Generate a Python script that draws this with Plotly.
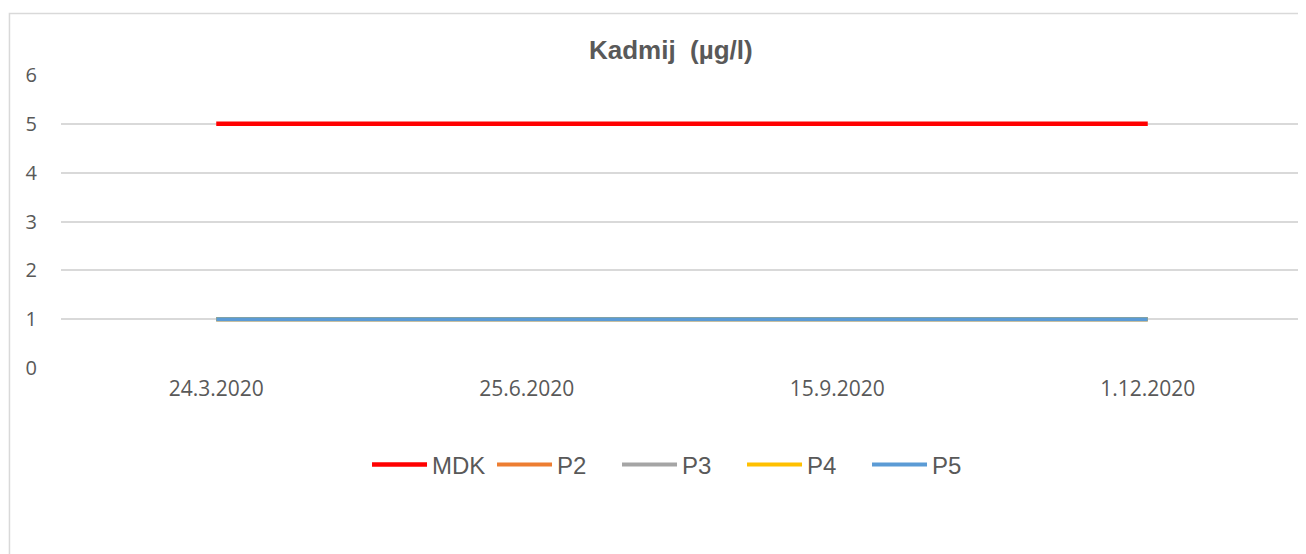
"""Kadmij line chart, Excel-style, rebuilt with Plotly."""

import plotly.graph_objects as go

dates = ["24.3.2020", "25.6.2020", "15.9.2020", "1.12.2020"]
mdk = [5, 5, 5, 5]
p2 = [1, 1, 1, 1]
p3 = [1, 1, 1, 1]
p4 = [1, 1, 1, 1]
p5 = [1, 1, 1, 1]

series = [
    ("MDK", mdk, "#ff0000", 4.5),
    ("P2", p2, "#ed7d31", 4),
    ("P3", p3, "#a5a5a5", 4),
    ("P4", p4, "#ffc000", 4),
    ("P5", p5, "#5b9bd5", 4),
]

fig = go.Figure()
for name, vals, color, width in series:
    fig.add_trace(go.Scatter(
        x=dates,
        y=vals,
        mode="lines",
        name=name,
        line=dict(color=color, width=width),
    ))

grey_text = "#595959"

# the page body adds an 8px margin, so the figure is sized 8px short
fig.update_layout(
    width=1298,
    height=546,
    margin=dict(l=53, r=3, t=67, b=186),
    paper_bgcolor="white",
    plot_bgcolor="white",
    title=dict(
        text="<b>Kadmij  (µg/l)</b>",
        font=dict(family="Liberation Sans, Arial", size=26, color=grey_text),
        x=0.491,
        xref="paper",
        xanchor="center",
        y=1 - 42 / 546,
        yref="container",
        yanchor="middle",
    ),
    xaxis=dict(
        type="category",
        range=[-0.5, 3.5],
        showgrid=False,
        showline=False,
        zeroline=False,
        ticks="outside",
        ticklen=2,
        tickcolor="rgba(0,0,0,0)",
        tickfont=dict(family="Open Sans", size=21, color=grey_text),
    ),
    yaxis=dict(
        range=[0, 6],
        dtick=1,
        showgrid=True,
        gridcolor="#d9d9d9",
        gridwidth=1.5,
        zeroline=False,
        showline=False,
        ticks="outside",
        ticklen=19,
        tickcolor="rgba(0,0,0,0)",
        tickfont=dict(family="Open Sans", size=20, color=grey_text),
    ),
    legend=dict(
        orientation="h",
        x=0.498,
        xanchor="center",
        y=-0.331,
        yanchor="middle",
        font=dict(family="Liberation Sans, Arial", size=24, color=grey_text),
        itemwidth=55,
        entrywidth=55,
        entrywidthmode="pixels",
        traceorder="normal",
    ),
    shapes=[dict(
        type="rect",
        xref="paper",
        yref="paper",
        x0=-0.0415,
        x1=1.2,
        y0=-1.0,
        y1=1.2099,
        line=dict(color="#d9d9d9", width=1.5),
        layer="below",
    )],
    showlegend=True,
)

fig.write_html("out.html")
